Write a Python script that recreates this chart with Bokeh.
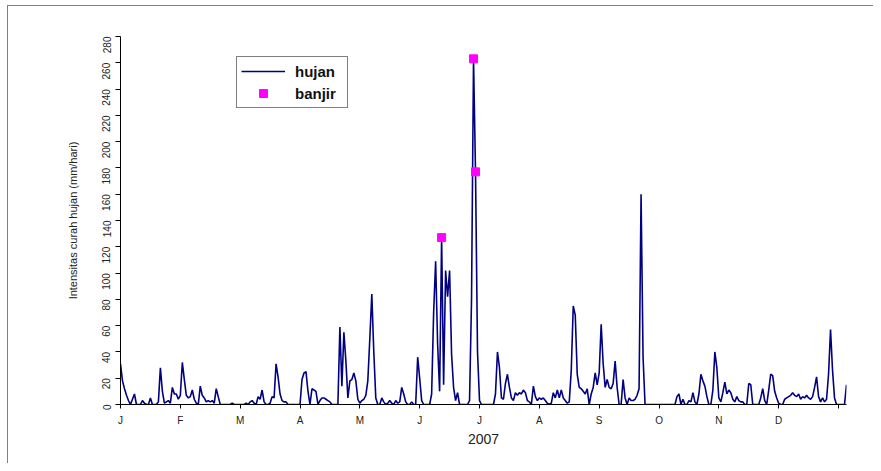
import math
from bokeh.plotting import figure
from bokeh.models import Range1d, FixedTicker, Legend, LegendItem, ColumnDataSource
from bokeh.embed import file_html
from bokeh.resources import INLINE

# Daily rainfall 2007 (mm/hari), by month
jan = [31, 18, 12, 7, 3, 0, 4, 8, 0, 0, 0, 3, 1, 0, 0, 5, 0, 0, 0, 2, 28, 10, 1, 2, 3, 1, 13, 8, 8, 4, 7]
feb = [32, 19, 7, 5, 6, 11, 4, 1, 0, 14, 7, 5, 2, 3, 2, 3, 1, 12, 6, 0, 0, 0, 0, 0, 0, 1, 0, 0]
mar = [0, 0, 0, 0, 1, 0, 2, 3, 1, 0, 6, 4, 11, 2, 0, 0, 1, 6, 5, 31, 21, 8, 3, 2, 2, 0, 0, 0, 0, 0, 0]
apr = [0, 19, 24, 25, 10, 0, 12, 11, 10, 0, 3, 5, 5, 4, 3, 2, 0, 0, 0, 0, 59, 14, 55, 33, 5, 18, 19, 24, 18, 4]
may = [1, 3, 4, 7, 18, 50, 84, 40, 5, 0, 0, 5, 2, 0, 1, 3, 1, 0, 3, 1, 2, 13, 8, 2, 0, 0, 2, 0, 0, 36, 20]
jun = [3, 0, 0, 0, 0, 8, 70, 109, 46, 10, 127, 15, 102, 82, 102, 38, 13, 3, 9, 0, 0, 0, 0, 0, 3, 80, 263, 177, 40, 3]
jul = [0, 0, 0, 0, 0, 0, 0, 8, 40, 28, 5, 4, 16, 23, 13, 5, 3, 9, 7, 9, 8, 11, 9, 3, 2, 0, 14, 6, 3, 5, 4]
aug = [5, 3, 1, 0, 1, 9, 5, 11, 5, 11, 5, 3, 1, 2, 26, 75, 68, 23, 13, 12, 10, 8, 12, 0, 8, 13, 24, 15, 24, 61, 31]
sep = [13, 19, 13, 12, 16, 33, 13, 0, 0, 19, 5, 0, 5, 3, 3, 4, 7, 12, 160, 36, 0, 0, 0, 0, 0, 0, 0, 0, 0, 0]
oct_ = [0, 0, 0, 0, 0, 0, 6, 8, 0, 4, 0, 0, 3, 2, 9, 2, 0, 8, 23, 18, 14, 6, 0, 0, 11, 40, 28, 5, 2, 9, 17]
nov = [8, 11, 9, 4, 2, 6, 3, 2, 2, 0, 0, 16, 15, 0, 0, 0, 0, 5, 12, 3, 0, 11, 23, 22, 10, 5, 1, 0, 0, 4]
dec = [5, 6, 7, 9, 7, 6, 8, 4, 6, 5, 7, 5, 4, 6, 13, 21, 6, 2, 5, 2, 4, 23, 57, 26, 5, 0, 0, 0, 0, 0, 15]

# Flood days (day index in year) and their rainfall
banjir_day = [161, 177, 178]
banjir_val = [127, 263, 177]

tick_days = [0, 30, 60, 90, 120, 150, 180, 210, 240, 270, 300, 330, 360]
tick_labels = ["J", "F", "M", "A", "M", "J", "J", "A", "S", "O", "N", "D", ""]
y_ticks = list(range(0, 281, 20))

hujan = jan + feb + mar + apr + may + jun + jul + aug + sep + oct_ + nov + dec
days = list(range(len(hujan)))

FONT = "Liberation Sans"

p = figure(width=866, height=458, output_backend="svg", toolbar_location=None,
           x_range=Range1d(0, len(hujan) - 1), y_range=Range1d(0, 280),
           min_border_left=112, min_border_right=28, min_border_top=30, min_border_bottom=60)
p.styles = {"border-left": "1px solid #808080", "border-top": "1px solid #808080",
            "margin-left": "7px", "margin-top": "5px"}
p.outline_line_color = None
p.xgrid.grid_line_color = None
p.ygrid.grid_line_color = None
p.background_fill_color = "white"
p.border_fill_color = "white"

src = ColumnDataSource(dict(x=days, y=hujan))
r_line = p.line("x", "y", source=src, line_color="#000080", line_width=1.6)
bsrc = ColumnDataSource(dict(x=banjir_day, y=banjir_val))
r_pts = p.scatter("x", "y", source=bsrc, marker="square", size=8,
                  fill_color="#FF00FF", line_color="#FF00FF")

# x axis
xa = p.xaxis[0]
xa.ticker = FixedTicker(ticks=tick_days)
xa.major_label_overrides = {d: l for d, l in zip(tick_days, tick_labels)}
xa.minor_tick_line_color = None
xa.major_tick_in = 0
xa.major_tick_out = 4
xa.major_label_standoff = 6
xa.major_label_text_font = FONT
xa.major_label_text_font_size = "10px"
xa.major_label_text_color = "#222222"
xa.axis_label = "2007"
xa.axis_label_text_font = FONT
xa.axis_label_text_font_size = "14px"
xa.axis_label_text_font_style = "normal"
xa.axis_label_text_color = "#222222"
xa.axis_label_standoff = 5
xa.axis_line_color = "black"

# y axis
ya = p.yaxis[0]
ya.ticker = FixedTicker(ticks=y_ticks)
ya.minor_tick_line_color = None
ya.major_tick_in = 0
ya.major_tick_out = 5
ya.major_label_orientation = math.pi / 2
ya.major_label_standoff = 9
ya.major_label_text_font = FONT
ya.major_label_text_font_size = "10px"
ya.major_label_text_color = "#222222"
ya.axis_label = "Intensitas curah hujan (mm/hari)"
ya.axis_label_text_font = FONT
ya.axis_label_text_font_size = "11px"
ya.axis_label_text_font_style = "normal"
ya.axis_label_text_color = "#222222"
ya.axis_label_standoff = 17
ya.axis_line_color = "black"

legend = Legend(items=[LegendItem(label="hujan", renderers=[r_line]),
                       LegendItem(label="banjir", renderers=[r_pts])],
                location=(116, 296), orientation="vertical")
legend.border_line_color = "black"
legend.border_line_width = 1
legend.background_fill_color = "white"
legend.padding = 4
legend.margin = 0
legend.spacing = 2
legend.glyph_width = 44
legend.glyph_height = 20
legend.label_height = 20
legend.label_width = 48
legend.label_standoff = 10
legend.label_text_font = FONT
legend.label_text_font_size = "15px"
legend.label_text_font_style = "bold"
legend.label_text_color = "#111111"
p.add_layout(legend)

open("out.html", "w").write(file_html(p, INLINE))
